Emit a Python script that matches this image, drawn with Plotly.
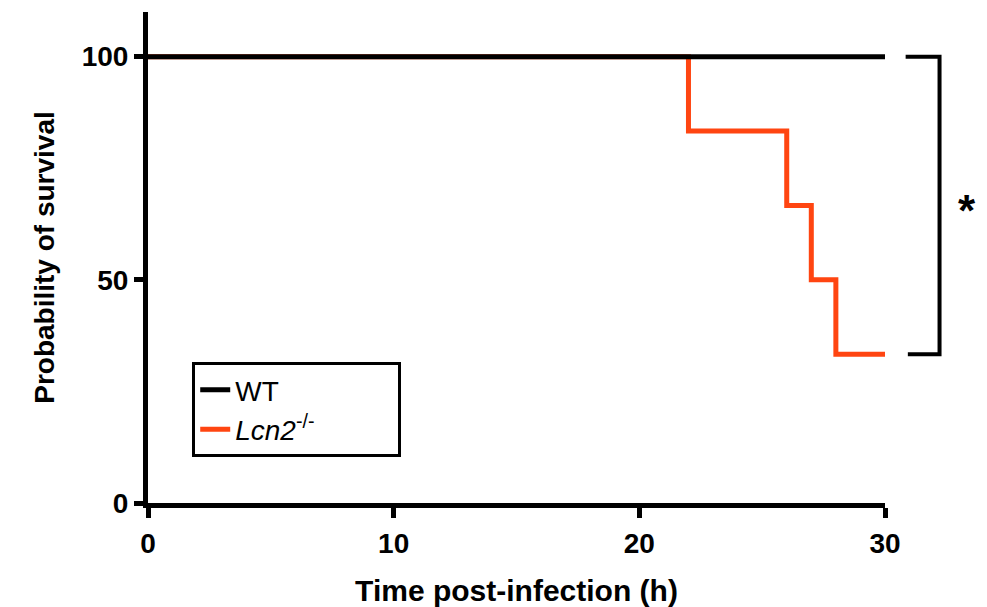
import plotly.graph_objects as go

# Data
wt_time = [0, 30]
wt_surv = [100, 100]
ko_time = [0, 22, 26, 27, 28, 30]
ko_surv = [100, 83.33, 66.67, 50, 33.33, 33.33]
x_ticks = [0, 10, 20, 30]
y_ticks = [0, 50, 100]
y_max = 110

FONT = "Liberation Sans"
ORANGE = "#FF4511"
PAD = "&nbsp;" * 10

fig = go.Figure()
fig.add_trace(go.Scatter(x=ko_time, y=ko_surv, mode="lines", line_shape="hv",
                         line=dict(color=ORANGE, width=5),
                         name="<i>Lcn2</i><sup>-/-</sup>" + PAD, legendrank=2))
fig.add_trace(go.Scatter(x=wt_time, y=wt_surv, mode="lines",
                         line=dict(color="black", width=5),
                         name="WT", legendrank=1))

axis_common = dict(showline=True, linecolor="black", linewidth=5,
                   ticks="outside", tickwidth=5, tickcolor="black",
                   showgrid=False, zeroline=False, automargin=False,
                   tickfont=dict(family=FONT, size=28, color="black", weight="bold"))

fig.update_xaxes(range=[0, 30], tickvals=x_ticks, ticklen=10, ticklabelstandoff=1,
                 title=dict(text="<b>Time post-infection (h)</b>",
                            font=dict(family=FONT, size=30, color="black"), standoff=32),
                 **axis_common)
fig.update_yaxes(range=[0, y_max], tickvals=y_ticks, ticklen=9,
                 title=dict(text="<b>Probability of survival</b>",
                            font=dict(family=FONT, size=28, color="black"), standoff=20),
                 **axis_common)

# significance bracket (paper coords derived from data values)
top = ko_surv[0] / y_max
bot = ko_surv[-1] / y_max
xb0, xb1, xb2 = 1.028, 1.074, 1.031
path = f"M {xb0} {top} L {xb1} {top} L {xb1} {bot} L {xb2} {bot}"
fig.add_shape(type="path", path=path, xref="paper", yref="paper",
              line=dict(color="black", width=4))
fig.add_annotation(text="<b>*</b>", x=1.126, y=(top + bot) / 2 - 0.01,
                   xref="paper", yref="paper", showarrow=False,
                   font=dict(family=FONT, size=44, color="black"))

fig.update_layout(
    width=987, height=607,
    margin=dict(l=148, r=102, t=12, b=104),
    plot_bgcolor="white", paper_bgcolor="white",
    legend=dict(x=0.06, y=0.287, xanchor="left", yanchor="top",
                bordercolor="black", borderwidth=3, bgcolor="white",
                font=dict(family=FONT, size=28, color="black"),
                tracegroupgap=0),
)

fig.write_html("out.html")
